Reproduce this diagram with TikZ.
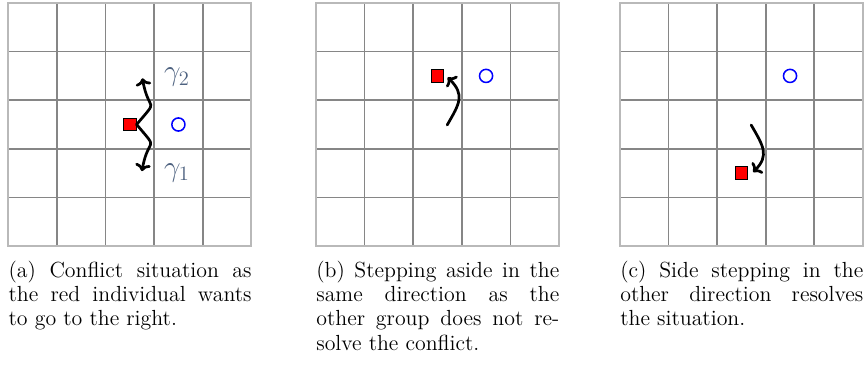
\documentclass[tikz,border=0pt]{standalone}
\usepackage{amsmath,amssymb,amsfonts}
\usepackage{xcolor}
\usepackage{tikz}
\usetikzlibrary{positioning, arrows.meta, calc}

\definecolor{gammagray}{RGB}{78,98,128}

\begin{document}
\begin{tikzpicture}[
    cell/.style={draw=gray!95, line width=1pt},
    frame/.style={draw=gray!55, line width=1pt},
    agent/.style={rectangle, draw, line width=0.6pt, fill=red, minimum size=0.26cm, inner sep=0pt},
    other/.style={circle, draw=blue, line width=0.9pt, minimum size=0.27cm, inner sep=0pt},
    move/.style={-{To[length=1.5mm, width=3.2mm]}, line width=1.6pt, line cap=round},
    gam/.style={font=\LARGE, text=gammagray},
    capt/.style={text width=5cm, align=justify, inner sep=0pt, anchor=base west, font=\fontsize{12.8}{14.2}\selectfont}
]
\useasboundingbox (-0.171,-2.531) rectangle (17.69,5.062);

% (a) conflict
\draw[cell] (0,0) grid (5,5);
\draw[frame] (0,0) rectangle (5,5);
\node[agent] (redA) at (2.5,2.5) {};
\node[other] (blueA) at (3.5,2.5) {};
\coordinate (upA) at (2.76,3.45);
\coordinate (downA) at (2.75,1.54);
\draw[move] (redA.east) to[out=50, in=-80, looseness=2] (upA);
\draw[move] (redA.east) to[out=-50, in=80, looseness=2] (downA);
\node[gam] (g2) at (3.47,3.47) {$\gamma_2$};
\node[gam] (g1) at (3.47,1.51) {$\gamma_1$};
\node[capt] (capA) at (0,-0.648) {(a) Conflict situation as\linebreak the red individual wants\linebreak to go to the right.};

% (b) same direction
\begin{scope}[xshift=6.331cm]
\draw[cell] (0,0) grid (5,5);
\draw[frame] (0,0) rectangle (5,5);
\node[agent] (redB) at (2.5,3.5) {};
\node[other] (blueB) at (3.5,3.5) {};
\coordinate (fromB) at (2.7,2.49);
\draw[move] (fromB) to[out=60, in=-45, looseness=1.33] ($(redB.east)+(0.07,-0.03)$);
\node[capt] (capB) at (0,-0.648) {(b) Stepping aside in the\linebreak same direction as the\linebreak other group does not re-\linebreak solve the conflict.};
\end{scope}

% (c) other direction
\begin{scope}[xshift=12.586cm]
\draw[cell] (0,0) grid (5,5);
\draw[frame] (0,0) rectangle (5,5);
\node[agent] (redC) at (2.5,1.5) {};
\node[other] (blueC) at (3.5,3.5) {};
\coordinate (fromC) at (2.7,2.49);
\draw[move] (fromC) to[out=-60, in=45, looseness=1.28] ($(redC.east)+(0.1,0.02)$);
\node[capt] (capC) at (0,-0.648) {(c) Side stepping in the\linebreak other direction resolves\linebreak the situation.};
\end{scope}

\end{tikzpicture}
\end{document}
